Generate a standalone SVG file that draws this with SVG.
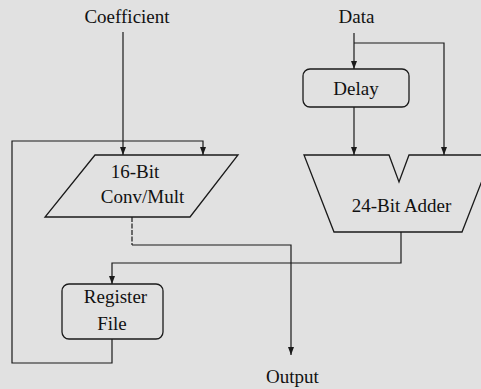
<svg xmlns="http://www.w3.org/2000/svg" width="481" height="389" viewBox="0 0 481 389">
<defs>
<marker id="ah" viewBox="0 0 8 8" refX="8" refY="4" markerWidth="8" markerHeight="8" markerUnits="userSpaceOnUse" orient="auto">
<path d="M0,1 L8,4 L0,7 Z" fill="#1a1a1a"/>
</marker>
<style>
.ln{fill:none;stroke:#1a1a1a;stroke-width:1.2}
.sh{fill:none;stroke:#1a1a1a;stroke-width:1.3}
.t{font-family:"Liberation Serif","Times New Roman",serif;font-size:19px;fill:#111;text-anchor:middle}
</style>
</defs>
<rect width="481" height="389" fill="#e1e1e1"/>
<g id="connectors">
<path class="ln" d="M123,32 V155" marker-end="url(#ah)"/>
<path class="ln" d="M112,339 V363 H12 V141 H203 V155" marker-end="url(#ah)"/>
<path class="ln" d="M354,33 V69" marker-end="url(#ah)"/>
<path class="ln" d="M354,43 H444 V155" marker-end="url(#ah)"/>
<path class="ln" d="M354,107 V155" marker-end="url(#ah)"/>
<path class="ln" d="M401,232 V263 H112 V284" marker-end="url(#ah)"/>
<path class="ln" d="M132,217 V245" stroke-dasharray="5 1.5"/>
<path class="ln" d="M132,245 H291 V355" marker-end="url(#ah)"/>
</g>
<g id="coefficient"><text class="t" x="127" y="23">Coefficient</text></g>
<g id="data"><text class="t" x="356.5" y="23">Data</text></g>
<g id="delay">
<rect class="sh" x="303" y="69" width="106" height="38" rx="7"/>
<text class="t" x="356" y="95">Delay</text>
</g>
<g id="conv-mult">
<path class="sh" d="M95,155 H238 L190,217 H45 Z"/>
<text class="t" x="135" y="178">16-Bit</text>
<text class="t" x="142.5" y="203">Conv/Mult</text>
</g>
<g id="adder">
<path class="sh" d="M304,155 H389 L399,182 L409,155 H492 L462,232 H334 Z"/>
<text class="t" x="401.5" y="212">24-Bit Adder</text>
</g>
<g id="register-file">
<rect class="sh" x="62" y="284" width="101" height="55" rx="7"/>
<text class="t" x="115.5" y="303">Register</text>
<text class="t" x="112" y="330">File</text>
</g>
<g id="output"><text class="t" x="292.5" y="383">Output</text></g>
</svg>
